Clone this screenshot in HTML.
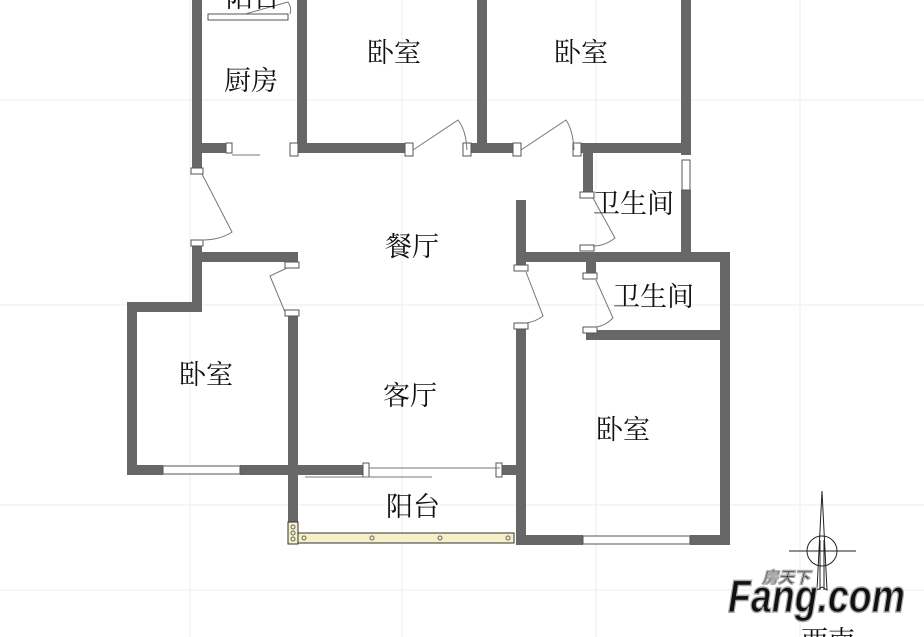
<!DOCTYPE html>
<html><head><meta charset="utf-8"><style>
html,body{margin:0;padding:0;background:#fff;}
svg{display:block;}
text{font-family:"Liberation Serif","Noto Serif CJK SC",serif;fill:#111;}
</style></head><body>
<svg width="924" height="637" viewBox="0 0 924 637" xmlns="http://www.w3.org/2000/svg">
<g stroke="#eee" stroke-width="1">
<line x1="0" y1="100" x2="924" y2="100"/><line x1="0" y1="305" x2="924" y2="305"/><line x1="0" y1="505" x2="924" y2="505"/><line x1="0" y1="590" x2="924" y2="590"/>
<line x1="402" y1="0" x2="402" y2="637"/><line x1="596" y1="0" x2="596" y2="637"/><line x1="800" y1="0" x2="800" y2="637"/><line x1="190" y1="0" x2="190" y2="637"/>
</g>
<g fill="#676767">
<rect x="192" y="0" width="10" height="172"/>
<rect x="192" y="242" width="10" height="70"/>
<rect x="192" y="252" width="106" height="10"/>
<rect x="297" y="0" width="10" height="153"/>
<rect x="192" y="143" width="35" height="10"/>
<rect x="290" y="143" width="120" height="10"/>
<rect x="468" y="143" width="50" height="10"/>
<rect x="477" y="0" width="10" height="153"/>
<rect x="575" y="143" width="116" height="10"/>
<rect x="681" y="0" width="10" height="155"/>
<rect x="681" y="190" width="10" height="72"/>
<rect x="583" y="143" width="10" height="52"/>
<rect x="516" y="252" width="214" height="10"/>
<rect x="516" y="200" width="10" height="68"/>
<rect x="516" y="325" width="10" height="220"/>
<rect x="720" y="252" width="10" height="293"/>
<rect x="586" y="252" width="10" height="23"/>
<rect x="586" y="330" width="144" height="10"/>
<rect x="516" y="535" width="67" height="10"/>
<rect x="690" y="535" width="40" height="10"/>
<rect x="127" y="302" width="75" height="10"/>
<rect x="127" y="302" width="10" height="173"/>
<rect x="127" y="465" width="36" height="10"/>
<rect x="240" y="465" width="125" height="10"/>
<rect x="288" y="312" width="10" height="220"/>
<rect x="288" y="252" width="10" height="16"/>
<rect x="500" y="465" width="26" height="10"/>
</g>
<g fill="#fff" stroke="#555" stroke-width="1">
<rect x="191" y="168" width="12" height="6"/><rect x="191" y="240" width="12" height="6"/>
<rect x="405" y="143" width="8" height="13"/><rect x="463" y="143" width="8" height="13"/>
<rect x="513" y="143" width="8" height="13"/><rect x="573" y="143" width="8" height="13"/>
<rect x="290" y="143" width="8" height="13"/><rect x="226" y="143" width="6" height="10"/>
<rect x="580" y="192" width="14" height="6"/><rect x="580" y="245" width="14" height="6"/>
<rect x="514" y="265" width="14" height="6"/><rect x="514" y="323" width="14" height="6"/>
<rect x="583" y="273" width="14" height="6"/><rect x="583" y="327" width="14" height="6"/>
<rect x="285" y="262" width="14" height="6"/><rect x="285" y="310" width="14" height="6"/>
<rect x="363" y="463" width="6" height="14"/><rect x="496" y="463" width="6" height="14"/>
<rect x="682" y="160" width="8" height="30"/>
<rect x="163" y="466" width="77" height="8"/><rect x="583" y="536" width="107" height="8"/>
<rect x="208" y="14" width="80" height="6"/>
</g>
<g stroke="#777" stroke-width="1" fill="none">
<line x1="232" y1="155" x2="260" y2="155"/>
<line x1="305" y1="477" x2="432" y2="477"/>
<line x1="369" y1="468" x2="500" y2="468"/>
<path d="M413 150 L458 120 Q466 130 467 150"/>
<path d="M521 150 L566 120 Q573 130 574 150"/>
<path d="M202 174 L232 232 Q220 240 202 240"/>
<path d="M593 198 L615 238 Q605 246 593 246"/>
<path d="M526 272 L543 316 Q535 322 526 323"/>
<path d="M596 280 L613 318 Q605 326 596 327"/>
<path d="M287 268 L270 276 L285 312"/>
<path d="M245 14 L288 2 Q292 8 290 14"/>
</g>
<rect x="288" y="522" width="10" height="22" fill="#f5f0c8" stroke="#333"/>
<rect x="298" y="533" width="216" height="10" fill="#f5f0c8" stroke="#333"/>
<g fill="none" stroke="#666"><circle cx="304" cy="538" r="2"/><circle cx="372" cy="538" r="2"/><circle cx="440" cy="538" r="2"/><circle cx="508" cy="538" r="2"/><circle cx="293" cy="527" r="2"/><circle cx="293" cy="533" r="2"/><circle cx="293" cy="539" r="2"/></g>
<g font-size="27">
<text x="226" y="7">阳台</text>
<text x="224" y="90">厨房</text>
<text x="367" y="62">卧室</text>
<text x="554" y="62">卧室</text>
<text x="593" y="213">卫生间</text>
<text x="385" y="256">餐厅</text>
<text x="613" y="306">卫生间</text>
<text x="179" y="384">卧室</text>
<text x="383" y="405">客厅</text>
<text x="596" y="439">卧室</text>
<text x="386" y="516">阳台</text>
<text x="801" y="650">西南</text>
</g>
<g stroke="#222" stroke-width="1" fill="none">
<line x1="789" y1="551" x2="856" y2="551"/>
<circle cx="822" cy="551" r="15"/>
<path d="M822 491 L817 590 L822 587 L827 590 Z"/>
<line x1="820" y1="540" x2="820" y2="590"/><line x1="824" y1="540" x2="824" y2="590"/>
</g>
<g font-weight="bold" font-style="italic" fill="#fff" stroke="#aaa" stroke-width="1.5">
<text x="728" y="612" font-size="46" textLength="177" lengthAdjust="spacingAndGlyphs" style="font-family:'Liberation Sans',sans-serif">Fang.com</text>
<text x="762" y="583" font-size="16" style="font-family:'Liberation Sans','Noto Sans CJK SC',sans-serif">房天下</text>
</g>
</svg>
</body></html>
